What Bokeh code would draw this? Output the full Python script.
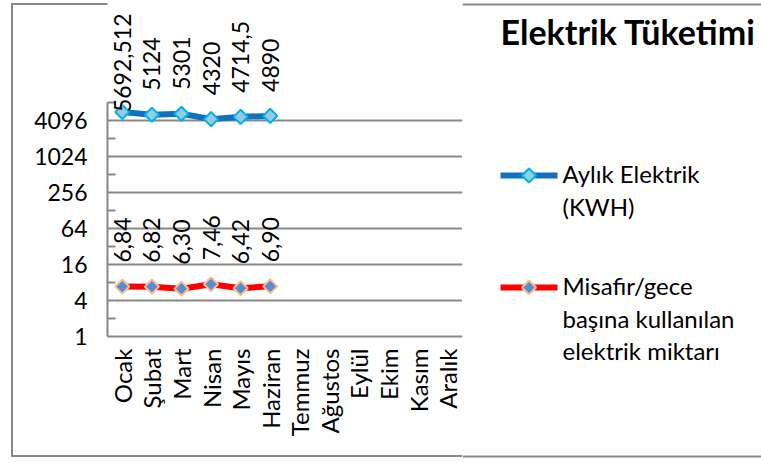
import math
from bokeh.plotting import figure
from bokeh.layouts import row, column
from bokeh.models import (FactorRange, Range1d, FixedTicker, NumeralTickFormatter, LabelSet,
                          ColumnDataSource)
from bokeh.core.properties import value
from bokeh.embed import file_html
from bokeh.resources import INLINE

# ---------------- data ----------------
months = ["Ocak", "Şubat", "Mart", "Nisan", "Mayıs", "Haziran",
          "Temmuz", "Ağustos", "Eylül", "Ekim", "Kasım", "Aralık"]
kwh = [5692.512, 5124, 5301, 4320, 4714.5, 4890]
per_guest = [6.84, 6.82, 6.30, 7.46, 6.42, 6.90]
y_ticks = [1, 4, 16, 64, 256, 1024, 4096]
y_minor = [2, 8, 32, 128, 512, 2048, 8192]
y_max = 8192
title_text = "Elektrik Tüketimi"
legend_kwh = ["Aylık Elektrik", "(KWH)"]
legend_guest = ["Misafir/gece", "başına kullanılan", "elektrik miktarı"]

# ---------------- style ----------------
FONT = "Lato"
FS_NUM = "23px"
FS_TXT = "24px"
GRID = "#878787"
BLUE = "#1170C0"
BLUE_FILL = "#93CDDD"
BLUE_EDGE = "#00B0F0"
RED = "#FF0000"
RED_FILL = "#558ED5"
RED_EDGE = "#FAC090"

W, H = 761, 463
FL, FR, FB = 107, 462, 336     # frame left / right / bottom (px)
AXIS_TOP = 102                 # where the value axis ends (px)
PX_PER_OCT = (FB - AXIS_TOP) / math.log2(y_max)
y_end = 2 ** (FB / PX_PER_OCT)  # frame reaches the top of the canvas

line = "linear-gradient(#878787,#878787)"
border_css = (f"{line} 11px 3px / 2px 454px no-repeat, "
              f"{line} 11px 455px / {FR - 11}px 2px no-repeat, "
              f"{line} 11px 3px / {FR - 11}px 2px no-repeat")

# ---------------- main chart ----------------
p = figure(width=FR, height=H, x_range=FactorRange(factors=months), y_range=Range1d(1, y_end),
           y_axis_type="log", output_backend="svg", toolbar_location=None, title=None,
           min_border_left=FL, min_border_right=0, min_border_top=0, min_border_bottom=H - FB)
p.outline_line_color = None
p.background_fill_color = "white"
p.border_fill_alpha = 0
p.styles = {"background": border_css}

ya = p.yaxis[0]
ya.bounds = (1, y_max)
ya.ticker = FixedTicker(ticks=y_ticks, minor_ticks=y_minor)
ya.formatter = NumeralTickFormatter(format="0")
ya.major_tick_in = 0
ya.major_tick_out = 0
ya.minor_tick_in = 8
ya.minor_tick_out = 0
ya.minor_tick_line_color = GRID
ya.minor_tick_line_width = 2
ya.axis_line_color = GRID
ya.axis_line_width = 2
ya.major_label_standoff = 20
ya.major_label_text_font = FONT
ya.major_label_text_font_size = FS_NUM
ya.major_label_text_color = "black"

xa = p.xaxis[0]
xa.major_label_orientation = math.pi / 2
xa.major_tick_in = 0
xa.major_tick_out = 0
xa.minor_tick_line_color = None
xa.axis_line_color = GRID
xa.axis_line_width = 2
xa.major_label_standoff = 12
xa.major_label_text_font = FONT
xa.major_label_text_font_size = FS_TXT
xa.major_label_text_color = "black"

p.xgrid.visible = False
p.ygrid.ticker = FixedTicker(ticks=y_ticks[1:])
p.ygrid.grid_line_color = GRID
p.ygrid.grid_line_width = 2

n = len(kwh)
p.line(months[:n], kwh, line_color=BLUE, line_width=6)
p.scatter(months[:n], kwh, marker="square", angle=math.pi / 4, size=10,
          fill_color=BLUE_FILL, line_color=BLUE_EDGE, line_width=2)
p.line(months[:n], per_guest, line_color=RED, line_width=6)
p.scatter(months[:n], per_guest, marker="square", angle=math.pi / 4, size=10,
          fill_color=RED_FILL, line_color=RED_EDGE, line_width=2)

# data labels (rotated), clamped to stay inside the chart
def page_y(v):
    return FB - math.log2(v) * PX_PER_OCT

def text_len(s):
    return sum(5.5 if c == "," else 13.3 for c in s)

def labels(vals, texts):
    offs = []
    for v, t in zip(vals, texts):
        off = 24
        top = page_y(v) - off - text_len(t)
        if top < 13:
            off -= 13 - top
        offs.append(off)
    return ColumnDataSource(dict(m=months[:len(vals)], v=vals, t=texts, off=offs))

kwh_txt = [str(v).replace(".", ",") for v in kwh]
guest_txt = [f"{v:.2f}".replace(".", ",") for v in per_guest]
for src in (labels(kwh, kwh_txt), labels(per_guest, guest_txt)):
    p.add_layout(LabelSet(x="m", y="v", text="t", source=src, angle=math.pi / 2,
                          text_align="left", text_baseline="middle", y_offset="off",
                          text_font=value(FONT), text_font_size=value(FS_NUM), text_color="black"))

# ---------------- title + legend panel (pixel coordinates) ----------------
q = figure(width=W - FR, height=H, x_range=Range1d(FR, W), y_range=Range1d(H, 0),
           x_axis_location=None, y_axis_location=None, output_backend="svg",
           toolbar_location=None, title=None, min_border=0)
q.grid.visible = False
q.outline_line_color = None
q.background_fill_alpha = 0
q.border_fill_alpha = 0

# chart border continuation
q.line([FR, W], [4, 4], line_color=GRID, line_width=2)
q.line([FR, W], [456, 456], line_color=GRID, line_width=2)

q.text(x=[500], y=[31], text=[title_text], text_font=value(FONT), text_font_style="bold",
       text_font_size=value("34px"), text_baseline="alphabetic", text_color="black")

def legend_entry(yc, line_col, fill, edge, lines):
    q.line([500, 557], [yc, yc], line_color=line_col, line_width=6)
    q.scatter([528.5], [yc], marker="square", angle=math.pi / 4, size=10,
              fill_color=fill, line_color=edge, line_width=2)
    q.text(x=[562] * len(lines), y=[yc - 2 + 32.5 * i for i in range(len(lines))], text=lines,
           text_font=value(FONT), text_font_size=value(FS_TXT), text_baseline="alphabetic",
           text_color="black")

legend_entry(175, BLUE, BLUE_FILL, BLUE_EDGE, legend_kwh)
legend_entry(287, RED, RED_FILL, RED_EDGE, legend_guest)

# nest the side panel so its frame is not aligned with the chart frame
layout = row(p, column(q, spacing=0), spacing=0)
open("out.html", "w").write(file_html(layout, INLINE))
